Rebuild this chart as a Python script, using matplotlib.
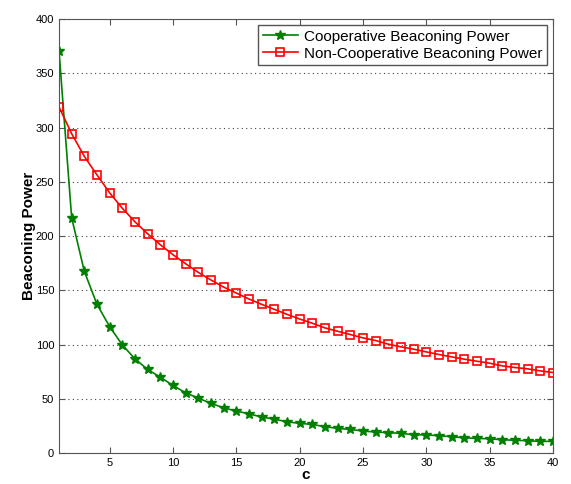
import matplotlib
matplotlib.use('Agg')
import matplotlib.pyplot as plt

c = list(range(1, 41))
coop_power = [371, 217, 167.6, 137.2, 116.7, 99.8, 87.0, 77.2, 70.1, 62.5,
              55.7, 50.8, 46.0, 41.9, 38.9, 36.4, 33.4, 31.5, 29.0, 27.6,
              26.6, 24.5, 23.0, 22.0, 20.5, 19.6, 19.0, 18.4, 17.1, 17.0,
              16.2, 15.3, 14.3, 13.7, 13.4, 12.5, 12.0, 11.6, 11.0, 11.0]
noncoop_power = [319, 294.4, 273.5, 256.4, 239.9, 225.7, 213.2, 202.2, 192.1, 182.9,
                 174.6, 166.6, 159.6, 153.1, 147.6, 142.1, 137.2, 132.6, 128.0, 123.7,
                 119.8, 115.5, 112.4, 109.4, 106.3, 103.9, 100.5, 98.0, 95.9, 93.4,
                 91.0, 88.8, 86.7, 84.8, 83.0, 80.5, 79.0, 77.8, 75.9, 74.4]

plt.rcParams['font.family'] = ['Liberation Sans', 'DejaVu Sans']

fig = plt.figure(figsize=(5.71, 4.84), dpi=100)
ax = fig.add_axes([0.1033, 0.0634, 0.8652, 0.8973])

ax.plot(c, coop_power, color='#008000', marker='*', markersize=7, linewidth=1.2,
        markerfacecolor='#008000', markeredgecolor='#008000',
        label='Cooperative Beaconing Power')
ax.plot(c, noncoop_power, color='#ff0000', marker='s', markersize=5.5, linewidth=1.2,
        markerfacecolor='none', markeredgecolor='#ff0000', markeredgewidth=1.2,
        label='Non-Cooperative Beaconing Power')

ax.set_xlim(1, 40)
ax.set_ylim(0, 400)
ax.set_xticks(range(5, 41, 5))
ax.set_yticks(range(0, 401, 50))
ax.yaxis.grid(True, linestyle=(0, (1, 3)), color='#444444', linewidth=0.8)
ax.tick_params(direction='in', top=True, right=True, labelsize=8, length=4,
               color='#555555')
for s in ax.spines.values():
    s.set_color('#555555')

ax.set_xlabel('c', fontsize=11, fontweight='bold', labelpad=0)
ax.set_ylabel('Beaconing Power', fontsize=11, fontweight='bold', labelpad=0)

leg = ax.legend(loc='upper right', fontsize=11, fancybox=False, framealpha=1,
                borderaxespad=0.4, handlelength=2.3, borderpad=0.3,
                labelspacing=0.2, handletextpad=0.4)
leg.get_frame().set_edgecolor('#555555')

fig.savefig('out.png', dpi=100)
